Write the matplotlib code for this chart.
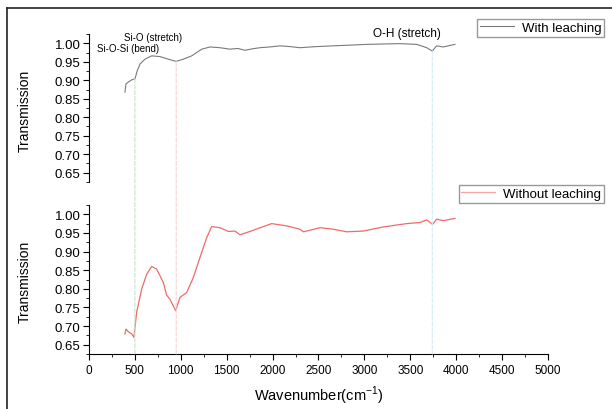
import numpy as np
import matplotlib.pyplot as plt
from matplotlib.patches import ConnectionPatch
from matplotlib.lines import Line2D
from matplotlib.ticker import MultipleLocator

plt.rcParams['font.family'] = ['Liberation Sans', 'DejaVu Sans']

# 有浸出 (灰色曲线)
wn_with = [392, 403, 428, 465, 501, 526, 556, 610, 683, 773, 864, 948, 1027, 1119,
           1228, 1318, 1427, 1536, 1620, 1700, 1780, 1863, 1970, 2081, 2190, 2298,
           2480, 2660, 2840, 3025, 3200, 3388, 3570, 3679, 3740, 3787, 3860, 3930, 3987]
t_with = [0.868, 0.890, 0.895, 0.901, 0.904, 0.926, 0.944, 0.957, 0.966, 0.964, 0.957,
          0.951, 0.957, 0.966, 0.984, 0.990, 0.988, 0.984, 0.986, 0.981, 0.985, 0.988,
          0.990, 0.993, 0.991, 0.988, 0.991, 0.993, 0.995, 0.997, 0.998, 0.999, 0.997,
          0.988, 0.979, 0.993, 0.990, 0.994, 0.997]

# 无浸出 (红色曲线)
wn_without = [392, 403, 428, 465, 490, 519, 574, 628, 683, 737, 810, 846, 882, 944,
              991, 1064, 1136, 1209, 1282, 1336, 1427, 1518, 1590, 1645, 1754, 1899,
              1990, 2153, 2298, 2335, 2420, 2516, 2661, 2806, 2988, 3206, 3460, 3606,
              3679, 3743, 3787, 3860, 3987]
t_without = [0.679, 0.692, 0.685, 0.679, 0.670, 0.737, 0.799, 0.839, 0.860, 0.853,
             0.817, 0.783, 0.772, 0.741, 0.777, 0.790, 0.830, 0.884, 0.937, 0.967,
             0.964, 0.954, 0.955, 0.945, 0.954, 0.967, 0.975, 0.969, 0.960, 0.953,
             0.958, 0.964, 0.960, 0.953, 0.955, 0.966, 0.975, 0.978, 0.985, 0.973,
             0.987, 0.983, 0.989]

# 峰位标记
peak_wn = [500, 950, 3740]
peak_colors = ['#c6e6c6', '#f5d3d3', '#d3edf2']
peak_labels = ['Si-O-Si (bend)', 'Si-O (stretch)', 'O-H (stretch)']

fig = plt.figure(figsize=(6.12, 4.1), dpi=100)
ax1 = fig.add_axes([0.1454, 0.5537, 0.75, 0.3609])
ax2 = fig.add_axes([0.1454, 0.1341, 0.75, 0.3635])

ax1.plot(wn_with, t_with, color='#7a7a7a', lw=0.8)
ax2.plot(wn_without, t_without, color='#f06a6a', lw=0.9)

for ax in (ax1, ax2):
    ax.set_xlim(0, 5000)
    ax.set_ylim(0.625, 1.025)
    ax.yaxis.set_major_locator(MultipleLocator(0.05))
    ax.yaxis.set_minor_locator(MultipleLocator(0.025))
    ax.xaxis.set_major_locator(MultipleLocator(500))
    ax.xaxis.set_minor_locator(MultipleLocator(250))
    ax.spines['top'].set_visible(False)
    ax.spines['right'].set_visible(False)
    ax.tick_params(axis='y', which='major', length=4, labelsize=9.5, pad=2)
    ax.tick_params(axis='y', which='minor', length=2)
    ax.tick_params(axis='x', which='major', length=4, labelsize=8.5)
    ax.tick_params(axis='x', which='minor', length=2)
    ax.set_yticks([0.65, 0.70, 0.75, 0.80, 0.85, 0.90, 0.95, 1.00])
    ax.set_ylabel('Transmission', fontsize=10)
    ax.yaxis.set_label_coords(-0.125, 0.49)

ax1.spines['bottom'].set_visible(False)
ax1.tick_params(axis='x', which='both', bottom=False, labelbottom=False)
ax2.set_xlabel('Wavenumber(cm$^{\\mathregular{-1}}$)', fontsize=10.5, labelpad=5)

# 竖直虚线, 从上图曲线延伸到下图底部
for w, c in zip(peak_wn, peak_colors):
    y0 = np.interp(w, wn_with, t_with)
    con = ConnectionPatch(xyA=(w, y0), coordsA=ax1.transData,
                          xyB=(w, 0.625), coordsB=ax2.transData,
                          color=c, lw=0.8, ls='--')
    fig.add_artist(con)

ax1.text(381, 1.016, peak_labels[1], fontsize=7, va='center', clip_on=False)
ax1.text(87, 0.987, peak_labels[0], fontsize=7, va='center', clip_on=False)
ax1.text(3094, 1.029, peak_labels[2], fontsize=8.5, va='center', clip_on=False)

h1 = [Line2D([], [], color='#7a7a7a', lw=0.8)]
h2 = [Line2D([], [], color='#f5a3a3', lw=0.9)]
leg_kw = dict(fontsize=9.5, fancybox=False, edgecolor='#999999', framealpha=1,
              handlelength=2.6, borderpad=0.2, handletextpad=0.6, borderaxespad=0)
fig.legend(h1, ['With leaching'], loc='upper right',
           bbox_to_anchor=(0.987, 0.951), **leg_kw)
fig.legend(h2, ['Without leaching'], loc='upper right',
           bbox_to_anchor=(0.987, 0.546), **leg_kw)

# 外框
fig.add_artist(Line2D([7/612, 1.0], [1 - 9/410, 1 - 9/410], color='#222222', lw=1.2))
fig.add_artist(Line2D([7/612, 7/612], [0.0, 1 - 9/410], color='#222222', lw=1.2))

fig.savefig('out.png', dpi=100)
